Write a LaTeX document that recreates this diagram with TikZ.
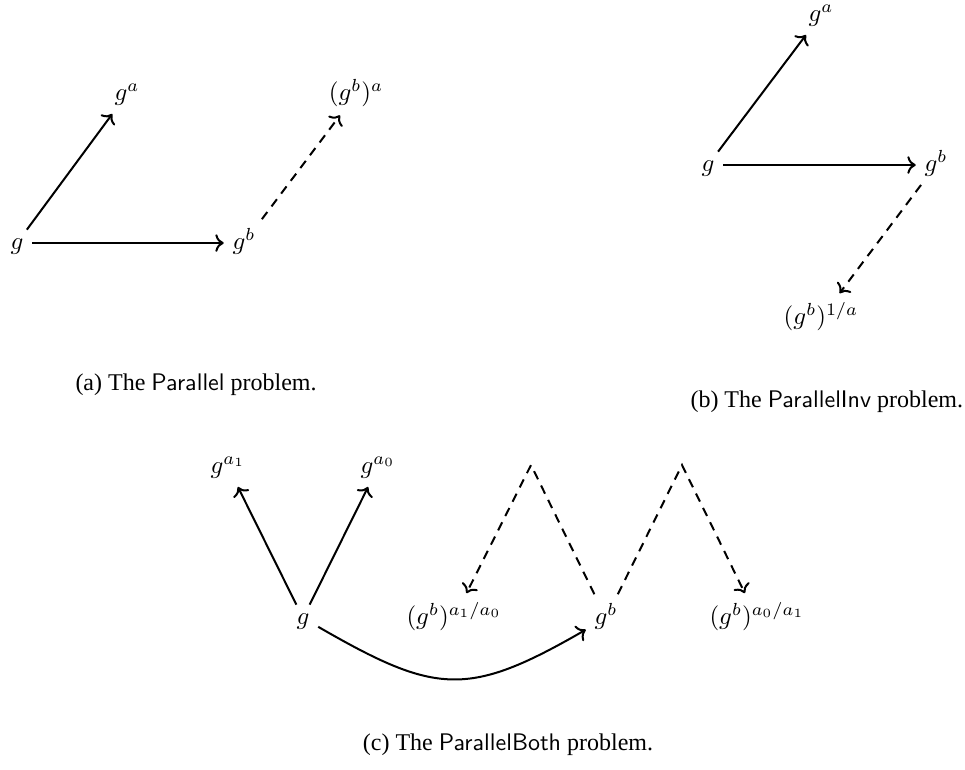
\documentclass[tikz,border=0pt]{standalone}
\usepackage[no-math]{fontspec}
\setmainfont{Liberation Serif}
\usetikzlibrary{cd}
\begin{document}
\begin{tikzpicture}[x=0.4pt,y=-0.4pt,
  mnode/.style={shape=asymmetrical rectangle, inner sep=0.3333em},
  captxt/.style={anchor=base west, inner sep=0pt, font=\fontsize{9.6}{12}\selectfont},
  arr/.style={->, thick},
  darr/.style={->, thick, dash pattern=on 3.6pt off 2.8pt}]
\useasboundingbox (0,0) rectangle (965,769);
% (a)
\node[mnode] (ag) at (17,243) {$g$};
\node[mnode] (aga) at (127,94) {$g^a$};
\node[mnode] (agb) at (244,243) {$g^b$};
\node[mnode] (agba) at (356,94) {$(g^b)^a$};
\draw[arr] (ag) -- (aga);
\draw[arr] (ag) -- (agb);
\draw[darr] (agb) -- (agba);
\node[captxt] (capa) at (75,390) {(a) The \textsf{Parallel} problem.};
% (b)
\node[mnode] (bg) at (708,165) {$g$};
\node[mnode] (bga) at (821,15) {$g^a$};
\node[mnode] (bgb) at (936,165) {$g^b$};
\node[mnode] (bginv) at (821,318) {$(g^b)^{1/a}$};
\draw[arr] (bg) -- (bga);
\draw[arr] (bg) -- (bgb);
\draw[darr] (bgb) -- (bginv);
\node[captxt] (capb) at (690,407) {(b) The \textsf{ParallelInv} problem.};
% (c)
\node[mnode] (cg) at (303,618) {$g$};
\node[mnode] (cga1) at (228,467) {$g^{a_1}$};
\node[mnode] (cga0) at (378,467) {$g^{a_0}$};
\node[mnode] (cgb1) at (454,618) {$(g^b)^{a_1/a_0}$};
\node[mnode] (cgb) at (606,618) {$g^b$};
\node[mnode] (cgb2) at (757,618) {$(g^b)^{a_0/a_1}$};
\coordinate (p1) at (531,465);
\coordinate (p2) at (682,465);
\draw[arr] (cg) -- (cga1);
\draw[arr] (cg) -- (cga0);
\draw[arr] (cg) to[out=-30, in=-150, looseness=1.3] (cgb);
\draw[darr] (cgb) -- (p1) -- (cgb1);
\draw[darr] (cgb) -- (p2) -- (cgb2);
\node[anchor=base, inner sep=0pt, font=\fontsize{9.6}{12}\selectfont] (capc) at (508,750) {(c) The \textsf{ParallelBoth} problem.};
\end{tikzpicture}
\end{document}
